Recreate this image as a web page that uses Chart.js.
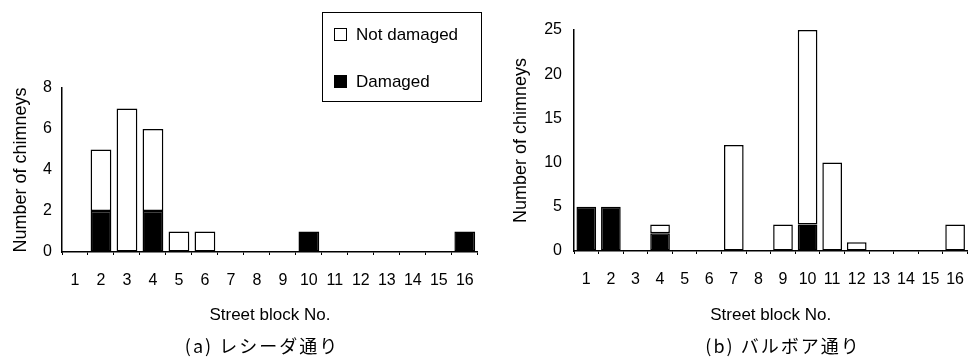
<!DOCTYPE html>
<html>
<head>
<meta charset="utf-8">
<script src="https://cdn.jsdelivr.net/npm/chart.js@4/dist/chart.umd.min.js"></script>
<style>
  body { margin: 0; background: #fff; }
  #wrap { position: relative; width: 980px; height: 363px; background: #fff; overflow: hidden; }
  canvas { position: absolute; top: 0; }
  .legend {
    position: absolute; left: 322px; top: 12px; width: 158px; height: 88px;
    border: 1.5px solid #000; font-family: "Liberation Sans", Arial, sans-serif; font-size: 17px; color: #000;
  }
  .legend .item { position: absolute; left: 11px; height: 20px; line-height: 20px; }
  .legend .box { display: inline-block; width: 11px; height: 11px; border: 1.5px solid #000; vertical-align: -1px; margin-right: 9px; }
  .cap {
    position: absolute; width: 320px; top: 333px; line-height: 24px; text-align: center;
    font-family: "Noto Sans CJK JP", sans-serif; font-size: 18px; letter-spacing: 2px; color: #000;
  }
</style>
</head>
<body>
<div id="wrap">
  <canvas id="chartA" width="490" height="363" style="left:0"></canvas>
  <canvas id="chartB" width="490" height="363" style="left:490px"></canvas>
  <div class="legend">
    <div class="item" style="top:12px"><span class="box" style="background:#fff"></span>Not damaged</div>
    <div class="item" style="top:59px"><span class="box" style="background:#000"></span>Damaged</div>
  </div>
  <div class="cap" style="left:102px">(a)&nbsp;レシーダ通り</div>
  <div class="cap" style="left:623px">(b)&nbsp;バルボア通り</div>
</div>
<script>
const blocks = ["1", "2", "3", "4", "5", "6", "7", "8", "9", "10", "11", "12", "13", "14", "15", "16"];

// (a) Lesida street
const damagedA = [0, 2, 0, 2, 0, 0, 0, 0, 0, 1, 0, 0, 0, 0, 0, 1];
const notDamagedA = [0, 3, 7, 4, 1, 1, 0, 0, 0, 0, 0, 0, 0, 0, 0, 0];

// (b) Balboa street
const damagedB = [5, 5, 0, 2, 0, 0, 0, 0, 0, 3, 0, 0, 0, 0, 0, 0];
const notDamagedB = [0, 0, 0, 1, 0, 0, 12, 0, 3, 22, 10, 1, 0, 0, 0, 3];

const FONT = "'Liberation Sans', Arial, sans-serif";

// no outline on empty segments
const edge = (ctx) => (ctx.raw ? 1.5 : 0);

function makeChart(id, damaged, notDamaged, opt) {
  return new Chart(document.getElementById(id), {
    type: "bar",
    data: {
      labels: blocks,
      datasets: [
        {
          label: "Damaged",
          data: damaged,
          backgroundColor: "#000",
          borderColor: "#000",
          borderWidth: edge,
          borderSkipped: false,
        },
        {
          label: "Not damaged",
          data: notDamaged,
          backgroundColor: "#fff",
          borderColor: "#000",
          borderWidth: edge,
          borderSkipped: false,
        },
      ],
    },
    options: {
      responsive: false,
      animation: false,
      devicePixelRatio: 1,
      layout: { padding: { left: 0, top: opt.top, right: opt.right, bottom: 27 } },
      plugins: { legend: { display: false }, tooltip: { enabled: false } },
      datasets: { bar: { categoryPercentage: 1, barPercentage: 0.8 } },
      scales: {
        x: {
          stacked: true,
          grid: { drawOnChartArea: false, drawTicks: true, tickLength: 3, color: "#000", lineWidth: 1 },
          border: { display: true, color: "#000", width: 1.5 },
          ticks: { color: "#000", font: { family: FONT, size: 16 }, padding: 16, maxRotation: 0, autoSkip: false },
          title: { display: true, text: "Street block No.", color: "#000", font: { family: FONT, size: 17 }, padding: { top: 0, bottom: 10 } },
          afterFit: (s) => { s.height = opt.xh; },
        },
        y: {
          stacked: true,
          min: 0,
          max: opt.max,
          grid: { drawOnChartArea: false, drawTicks: false },
          border: { display: true, color: "#000", width: 1.5 },
          ticks: { stepSize: opt.step, color: "#000", font: { family: FONT, size: 16 }, padding: opt.tickPad },
          title: { display: true, text: "Number of chimneys", color: "#000", font: { family: FONT, size: 18 }, padding: { top: opt.titlePad, bottom: 0 } },
          afterFit: (s) => { s.width = opt.yw; },
        },
      },
    },
  });
}

makeChart("chartA", damagedA, notDamagedA, { top: 88, right: 10, xh: 84, max: 8, step: 2, yw: 62, tickPad: 10, titlePad: 10 });
makeChart("chartB", damagedB, notDamagedB, { top: 30, right: 0, xh: 85, max: 25, step: 5, yw: 84, tickPad: 12, titlePad: 20 });
</script>
</body>
</html>
